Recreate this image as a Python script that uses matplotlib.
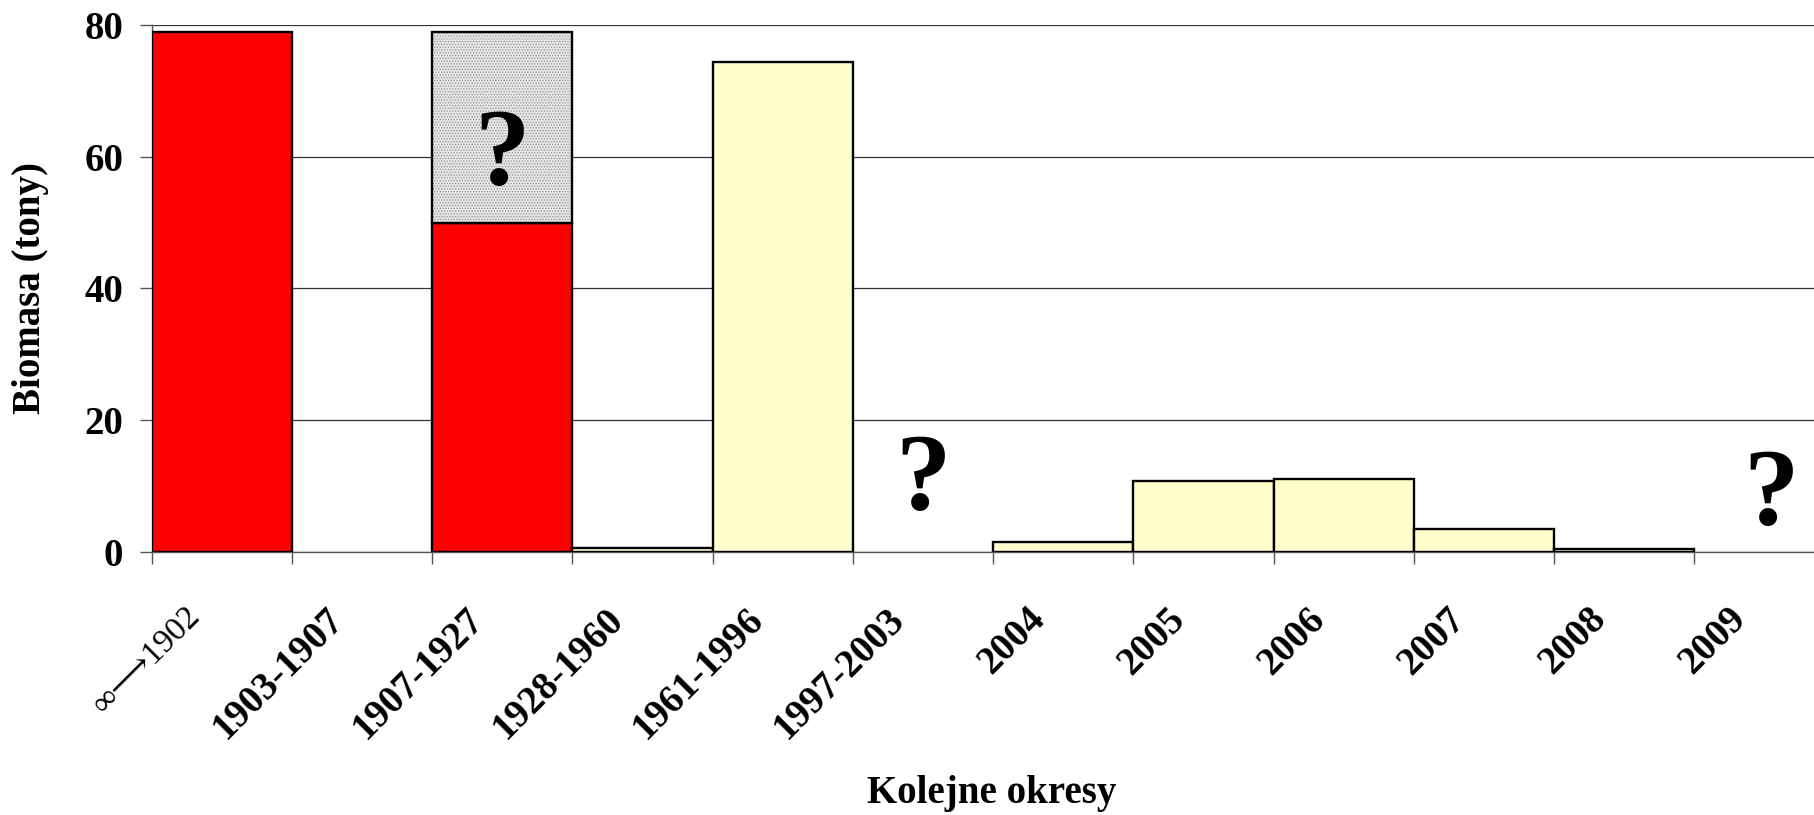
import numpy as np
import matplotlib
matplotlib.use("Agg")
import matplotlib.pyplot as plt
from matplotlib.transforms import blended_transform_factory

plt.rcParams["font.family"] = ["Liberation Serif", "DejaVu Serif"]
plt.rcParams["hatch.linewidth"] = 0.6

# Periods (categories) on the x axis
categories = ["∞⟶1902", "1903-1907", "1907-1927", "1928-1960", "1961-1996",
              "1997-2003", "2004", "2005", "2006", "2007", "2008", "2009"]

# Biomass in tonnes
historic = [79, 0, 50, 0, 0, 0, 0, 0, 0, 0, 0, 0]        # red
uncertain = [0, 0, 29, 0, 0, 0, 0, 0, 0, 0, 0, 0]        # grey, on top of red
recent = [0, 0, 0, 0.5, 74.4, 0, 1.4, 10.8, 11.1, 3.5, 0.4, 0]  # yellow

# Unknown periods, marked with "?" (category index, height)
unknown = [(2, 60.0), (5, 10.6), (11.05, 8.3)]

y_ticks = [0, 20, 40, 60, 80]

W, H = 1814, 815
fig = plt.figure(figsize=(W / 100, H / 100), dpi=100)
ax = fig.add_axes([151.7 / W, 263.3 / H, 1682.9 / W, 526.7 / H])

x = np.arange(len(categories))
hist = np.array(historic, dtype=float)
unc = np.array(uncertain, dtype=float)
rec = np.array(recent, dtype=float)

m = hist > 0
ax.bar(x[m], hist[m], width=1.0, align="edge", color="#ff0000",
       edgecolor="black", linewidth=1.7, zorder=3)
m = unc > 0
ax.bar(x[m], unc[m], bottom=hist[m], width=1.0, align="edge",
       color="#e4e4e4", edgecolor="#9a9a9a", hatch="......", linewidth=0,
       zorder=3)
ax.bar(x[m], unc[m], bottom=hist[m], width=1.0, align="edge",
       fill=False, edgecolor="black", linewidth=1.7, zorder=3)
m = rec > 0
ax.bar(x[m], rec[m], width=1.0, align="edge", color="#ffffcc",
       edgecolor="black", linewidth=1.7, zorder=3)

for xi, yi in unknown:
    ax.text(xi + 0.5, yi, "?", ha="center", va="center", fontsize=80,
            fontweight="bold", zorder=4)

ax.set_xlim(0, len(categories))
ax.set_ylim(0, 80)
ax.set_yticks(y_ticks)
ax.set_yticklabels([str(v) for v in y_ticks], fontsize=28, fontweight="bold")
ax.set_xticks(np.arange(len(categories) + 1))
ax.set_xticklabels([])
ax.tick_params(axis="both", direction="out", length=8.5, width=1.0,
               color="#555555")
ax.tick_params(axis="y", pad=12)
ax.grid(axis="y", color="#333333", linewidth=0.9, zorder=0)
ax.set_axisbelow(True)
for side in ["top", "right"]:
    ax.spines[side].set_visible(False)
for side in ["left", "bottom"]:
    ax.spines[side].set_color("#555555")
    ax.spines[side].set_linewidth(1.0)

# Rotated category labels (the first one is a pasted, non-bold label)
trans = blended_transform_factory(ax.transData, ax.transAxes)
for i, lab in enumerate(categories):
    if i == 0:
        weight, size = "normal", 24
    else:
        weight, size = "bold", 28
    ax.text(i + 0.5 - 0.265, -0.093, lab, transform=trans, rotation=45,
            rotation_mode="anchor", ha="right", va="top", fontsize=size,
            fontweight=weight)

fig.text(31 / W, 1 - 288.5 / H, "Biomasa (tony)", rotation=90, ha="center",
         va="center", fontsize=28, fontweight="bold")
fig.text(992 / W, 1 - 793 / H, "Kolejne okresy", ha="center", va="center",
         fontsize=28, fontweight="bold")

fig.savefig("out.png", dpi=100)
